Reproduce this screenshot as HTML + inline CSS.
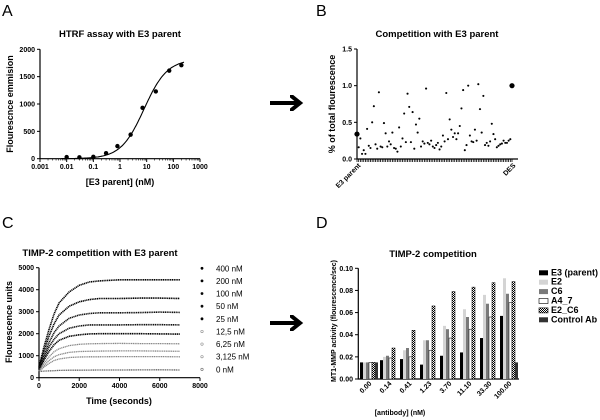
<!DOCTYPE html>
<html><head><meta charset="utf-8"><style>
body{margin:0;background:#fff}
svg{display:block;font-family:"Liberation Sans",Arial,sans-serif}
.t{font-weight:bold;font-size:9.5px}
.k{font-weight:bold;font-size:7px}
.l{font-weight:bold;font-size:9px}
</style></head><body>
<svg id="s" width="600" height="420" xmlns="http://www.w3.org/2000/svg">
<defs><pattern id="chk" width="2" height="2" patternUnits="userSpaceOnUse"><rect width="2" height="2" fill="#fff"/><rect width="1" height="1" fill="#000"/><rect x="1" y="1" width="1" height="1" fill="#000"/></pattern>
<marker id="ah" markerWidth="4" markerHeight="4" refX="2" refY="2" orient="auto"><path d="M0,0 L2.5,2 L0,4" fill="none" stroke="#000" stroke-width="1"/></marker></defs>
<text x="2" y="16" font-size="16">A</text>
<text x="316" y="16" font-size="16">B</text>
<text x="2" y="228" font-size="16">C</text>
<text x="316" y="228" font-size="16">D</text>
<path d="M270,103 H298" stroke="#000" stroke-width="4" marker-end="url(#ah)"/>
<path d="M270,323 H298" stroke="#000" stroke-width="4" marker-end="url(#ah)"/>
<g id="g"></g>
</svg>
<script>
// Panel A data
const aConc=[0.01,0.03,0.1,0.3,0.8,2.5,7,22,70,200];
const aVal=[30,25,35,100,230,440,930,1230,1610,1710];
const aFit=[0,1820,8,1.0];
const aTicksX=["0.001","0.01","0.1","1","10","100","1000"];
const aTicksY=[0,500,1000,1500,2000];
// Panel B data
const bVal=[0.34,0.16,0.28,0.07,0.12,0.07,0.41,0.18,0.15,0.5,0.72,0.2,0.14,0.91,0.17,0.16,0.49,0.35,0.17,0.24,0.2,0.36,0.15,0.14,0.1,0.43,0.17,0.28,0.62,0.23,0.89,0.71,0.23,0.64,0.14,0.47,0.36,0.55,0.17,0.24,0.21,0.96,0.22,0.2,0.25,0.17,0.15,0.19,0.22,0.13,0.17,0.32,0.24,0.9,0.27,0.54,0.4,0.3,0.35,0.27,0.35,0.45,0.69,0.94,0.12,0.19,1.0,0.32,0.24,0.23,0.4,0.25,1.02,0.68,0.36,0.86,0.19,0.22,0.18,0.24,0.48,0.34,0.27,0.16,0.18,0.2,0.21,0.25,0.22,0.22,0.25,0.27,1.0];
const bTicksY=["0.0","0.5","1.0","1.5"];
// Panel C data
const cTime=[0,250,500,750,1000,1500,2000,2500,3000,4000,5000,6000,7000];
const cLabels=["400 nM","200 nM","100 nM","50 nM","25 nM","12,5 nM","6,25 nM","3,125 nM","0 nM"];
const c400=[500,1400,2200,2900,3400,3900,4200,4350,4400,4450,4450,4450,4450];
const c200=[450,1200,1900,2450,2850,3250,3450,3550,3600,3600,3620,3620,3600];
const c100=[400,1000,1600,2050,2350,2700,2850,2920,2950,2950,2960,2980,2970];
const c50=[380,900,1400,1750,2000,2250,2350,2400,2400,2400,2410,2410,2400];
const c25=[350,800,1200,1500,1700,1880,1950,1990,2000,2000,2000,1990,1980];
const c12=[320,650,950,1180,1320,1460,1520,1540,1550,1560,1550,1550,1540];
const c6=[300,550,780,950,1050,1150,1190,1200,1210,1220,1220,1210,1200];
const c3=[280,480,650,780,850,920,940,950,950,960,960,960,950];
const c0=[280,300,310,320,330,340,340,345,350,350,355,360,350];
const cTicksX=[0,2000,4000,6000,8000];
const cTicksY=[0,1000,2000,3000,4000,5000];
// Panel D data
const dCats=["0.00","0.14","0.41","1.23","3.70","11.10","33.30","100.00"];
const dSeries=["E3 (parent)","E2","C6","A4_7","E2_C6","Control Ab"];
const dE3=[0.015,0.017,0.018,0.013,0.021,0.024,0.037,0.057];
const dE2=[0.015,0.020,0.026,0.035,0.048,0.063,0.076,0.091];
const dC6=[0.015,0.021,0.028,0.035,0.045,0.056,0.068,0.077];
const dA4=[0.015,0.019,0.020,0.026,0.037,0.045,0.056,0.069];
const dE2C6=[0.015,0.028,0.044,0.066,0.079,0.083,0.087,0.088];
const dCtl=[0.015,0,0,0,0,0,0,0.015];
const dTicksY=["0.00","0.02","0.04","0.06","0.08","0.10"];

const NS="http://www.w3.org/2000/svg",G=document.getElementById('g');
function el(t,a,txt){const e=document.createElementNS(NS,t);for(const k in a)e.setAttribute(k,a[k]);if(txt!==undefined)e.textContent=txt;G.appendChild(e);return e;}

// ---- Panel A ----
const axA=v=>40+(Math.log10(v)+3)*26.67, ayA=v=>158.7-v/2000*109.4;
let e=el('path',{d:'M40,49.3 V158.7 H200',fill:'none',stroke:'#000','stroke-width':1.2});

aTicksY.forEach(v=>{el('line',{x1:37,x2:40,y1:ayA(v),y2:ayA(v),stroke:'#000'});
 e=el('text',{x:35,y:ayA(v)+2.5,'text-anchor':'end',class:'k'},v);});
aTicksX.forEach(s=>{const x=axA(+s);el('line',{x1:x,x2:x,y1:158.7,y2:162,stroke:'#000'});
 for(let m=2;m<10&&+s<1000;m++){const xm=axA(+s*m);el('line',{x1:xm,x2:xm,y1:158.7,y2:160.5,stroke:'#000','stroke-width':0.6});}
 e=el('text',{x:x,y:169,'text-anchor':'middle',class:'k'},s);});
let pts=[];for(let i=0;i<=120;i++){const lx=-2.2+i*(4.6/120),c=Math.pow(10,lx);const y=aFit[0]+(aFit[1]-aFit[0])/(1+Math.pow(aFit[2]/c,aFit[3]));pts.push(axA(c).toFixed(1)+','+ayA(y).toFixed(1));}
e=el('polyline',{points:pts.join(' '),fill:'none',stroke:'#000','stroke-width':1.1});
aConc.forEach((c,i)=>{e=el('circle',{cx:axA(c),cy:ayA(aVal[i]),r:2.2});});
e=el('text',{x:120,y:37,'text-anchor':'middle',class:'t'},'HTRF assay with E3 parent');
e=el('text',{x:120,y:185,'text-anchor':'middle',class:'l','font-size':10},'[E3 parent] (nM)');
e=el('text',{x:0,y:0,'text-anchor':'middle',class:'l','font-size':10,transform:'translate(13,104) rotate(-90)'},'Flourescnce emmision');

// ---- Panel B ----
const n=bVal.length,axB=i=>357+i*(155/(n-1)),ayB=v=>159-v/1.5*110;
e=el('path',{d:'M357,49 V159 H518',fill:'none',stroke:'#000','stroke-width':1.2});
bTicksY.forEach(s=>{const y=ayB(+s);el('line',{x1:354,x2:357,y1:y,y2:y,stroke:'#000'});
 e=el('text',{x:352,y:y+2.5,'text-anchor':'end',class:'k'},s);});
bVal.forEach((v,i)=>{el('line',{x1:axB(i),x2:axB(i),y1:159,y2:162,stroke:'#000','stroke-width':0.8});
 const big=(i==0||i==n-1);e=el('circle',{cx:axB(i),cy:ayB(v),r:big?2.6:1.05});});
e=el('text',{x:0,y:0,'text-anchor':'end',class:'k',transform:'translate(361,166) rotate(-45)'},'E3 parent');
e=el('text',{x:0,y:0,'text-anchor':'end',class:'k',transform:'translate(516,166) rotate(-45)'},'DES');
e=el('text',{x:437,y:37,'text-anchor':'middle',class:'t'},'Competition with E3 parent');
e=el('text',{x:0,y:0,'text-anchor':'middle',class:'l','font-size':10,transform:'translate(335,104) rotate(-90)'},'% of total flourescence');

// ---- Panel C ----
const axC=t=>39+t/8000*161,ayC=v=>377.7-v/5000*110;
e=el('path',{d:'M39,267.7 V377.7 H200',fill:'none',stroke:'#000','stroke-width':1.2});
cTicksY.forEach(v=>{el('line',{x1:36,x2:39,y1:ayC(v),y2:ayC(v),stroke:'#000'});
 e=el('text',{x:34,y:ayC(v)+2.5,'text-anchor':'end',class:'k'},v);});
cTicksX.forEach(v=>{el('line',{x1:axC(v),x2:axC(v),y1:377.7,y2:381,stroke:'#000'});
 e=el('text',{x:axC(v),y:388,'text-anchor':'middle',class:'k'},v);});
const cAll=[c400,c200,c100,c50,c25,c12,c6,c3,c0],cCol=['#000','#000','#111','#111','#000','#888','#888','#888','#666'];
cAll.forEach((ser,si)=>{const p=ser.map((v,i)=>axC(cTime[i]).toFixed(1)+','+ayC(v).toFixed(1)).join(' ');
 e=el('polyline',{points:p,fill:'none',stroke:cCol[si],'stroke-width':si<5?1.6:1.3,'stroke-dasharray':'1.2 0.6'});
 const y=268.3+si*12.63;
 e=el('circle',{cx:202,cy:y,r:si<5?1.1:1.2,fill:si<5?'#000':'none',stroke:cCol[si],'stroke-width':0.6});
 e=el('text',{x:216,y:y+3,'font-size':8},cLabels[si]);});
e=el('text',{x:100,y:256,'text-anchor':'middle',class:'t'},'TIMP-2 competition with E3 parent');
e=el('text',{x:119,y:404,'text-anchor':'middle',class:'l','font-size':10},'Time (seconds)');
e=el('text',{x:0,y:0,'text-anchor':'middle',class:'l','font-size':10,transform:'translate(12,322) rotate(-90)'},'Flourescence units');

// ---- Panel D ----
const gw=20,x0D=359,ayD=v=>379-v/0.1*110.7;
e=el('path',{d:'M358.3,268.3 V379 H519',fill:'none',stroke:'#000','stroke-width':1.2});
dTicksY.forEach(s=>{const y=ayD(+s);el('line',{x1:355,x2:358.3,y1:y,y2:y,stroke:'#000'});
 e=el('text',{x:353,y:y+2.5,'text-anchor':'end',class:'k'},s);});
const dAll=[dE3,dE2,dC6,dA4,dE2C6,dCtl],dFill=['#000','#d4d4d4','#7a7a7a','#fff','url(#chk)','#333'];
dCats.forEach((c,ci)=>{const gx=x0D+ci*gw+1;
 dAll.forEach((ser,si)=>{const v=ser[ci];if(!v)return;const y=ayD(v);
  e=el('rect',{x:gx+si*3,y:y,width:3,height:379-y,fill:dFill[si],stroke:(si==3||si==4)?'#000':'none','stroke-width':0.5});});
 e=el('text',{x:0,y:0,'text-anchor':'end',class:'k',transform:`translate(${gx+12},384) rotate(-45)`},c);});
dSeries.forEach((s,si)=>{const y=273.3+si*9.4;
 e=el('rect',{x:539,y:y-3,width:9,height:5,fill:dFill[si],stroke:(si==3||si==4)?'#000':'none','stroke-width':0.6});
 e=el('text',{x:551,y:y+2,class:'l','font-size':7.5},s);});
e=el('text',{x:433,y:257,'text-anchor':'middle',class:'t'},'TIMP-2 competition');
e=el('text',{x:400,y:415,'text-anchor':'middle',class:'k','font-size':8},'[antibody] (nM)');
e=el('text',{x:0,y:0,'text-anchor':'middle',class:'k','font-size':8,transform:'translate(336,321) rotate(-90)'},'MT1-MMP activity (flourescence/sec)');
</script>
</body></html>
